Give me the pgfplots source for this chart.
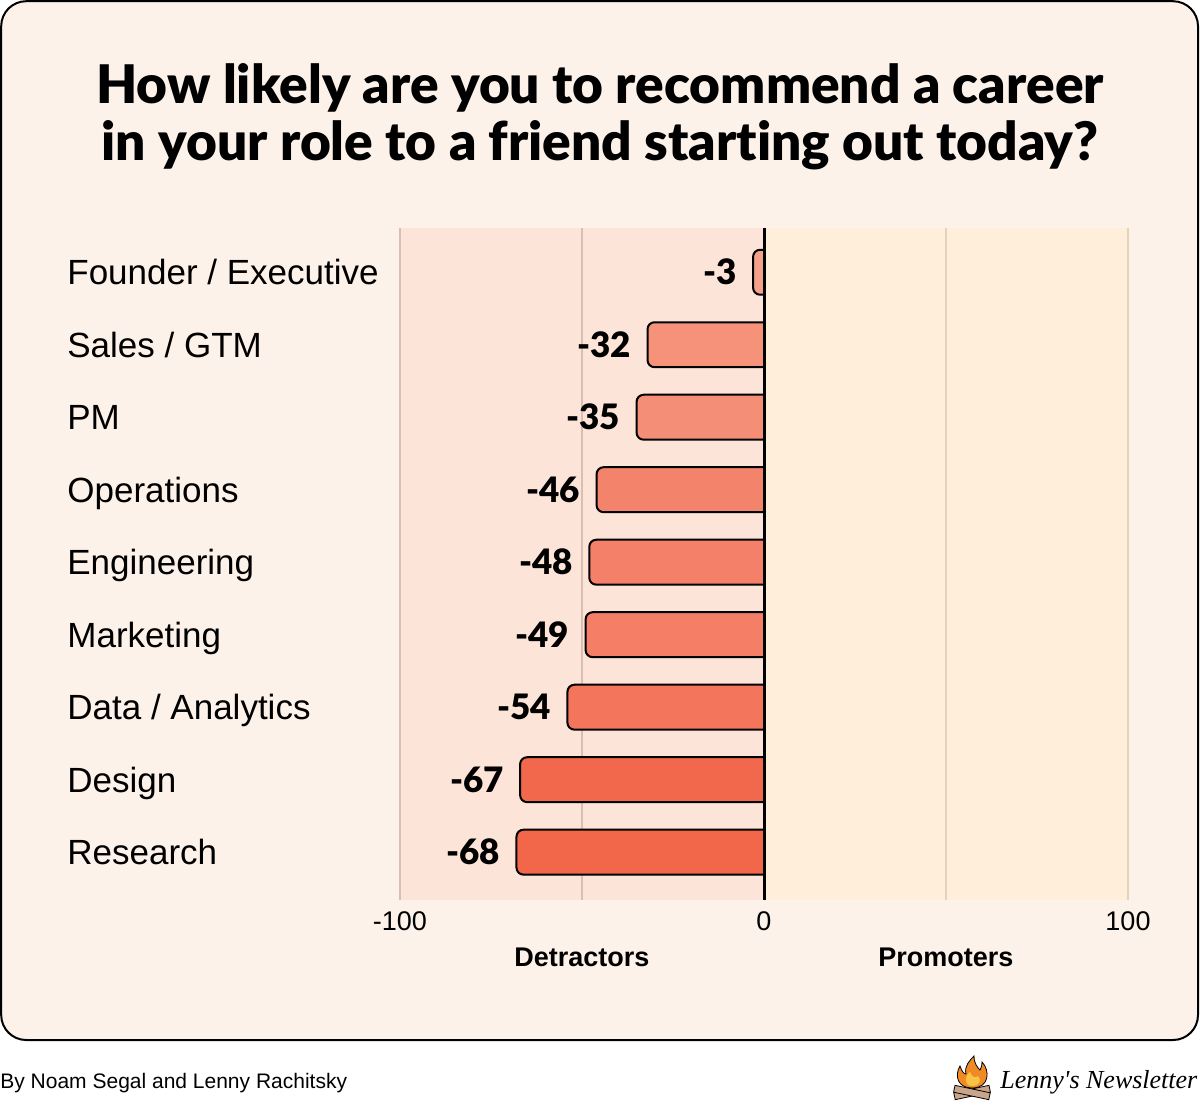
\documentclass[border=0pt]{standalone}
\usepackage{pgfplots}
\pgfplotsset{compat=1.18}
\usepackage{fontspec}
\setmainfont{Liberation Sans}
\newfontfamily\titlefont[Ligatures=NoCommon]{Lato Black}
\newfontfamily\logofont{Liberation Serif}
\definecolor{cardbg}{HTML}{FDF2EA}
\definecolor{pinkbg}{HTML}{FDE4D9}
\definecolor{creambg}{HTML}{FEEEDA}
\definecolor{gridL}{HTML}{D8BFB2}
\definecolor{gridR}{HTML}{E4D2BA}
\definecolor{b1}{HTML}{F5A08A}
\definecolor{b2}{HTML}{F6927A}
\definecolor{b3}{HTML}{F58E76}
\definecolor{b4}{HTML}{F4836C}
\definecolor{b5}{HTML}{F48069}
\definecolor{b6}{HTML}{F47E66}
\definecolor{b7}{HTML}{F3765C}
\definecolor{b8}{HTML}{F2684D}
\definecolor{b9}{HTML}{F2664A}
\definecolor{flameO}{HTML}{F08A24}
\definecolor{flameY}{HTML}{F9C443}
\definecolor{logbrown}{HTML}{C9A58A}
\begin{document}
\begin{tikzpicture}
\fill[white] (0pt,0pt) rectangle (600pt,-552pt);
\draw[line width=1pt, fill=cardbg, rounded corners=12.5pt] (0.6pt,-0.6pt) rectangle (599pt,-520pt);
\node[anchor=base, inner sep=0pt, font=\titlefont\fontsize{26.6}{30}\selectfont] at (300pt,-51.5pt) {How likely are you to recommend a career};
\node[anchor=base, inner sep=0pt, font=\titlefont\fontsize{26.6}{30}\selectfont] at (300pt,-80pt) {in your role to a friend starting out today?};
\begin{axis}[
  at={(200pt,-114pt)}, anchor=north west,
  scale only axis, width=364pt, height=336pt,
  xmin=-100, xmax=100, ymin=-0.61, ymax=8.66, y dir=reverse,
  axis line style={draw=none}, major tick length=0pt,
  xtick={-100,0,100}, xticklabels={-100,0,100},
  xticklabel style={font=\fontsize{13.5}{15}\selectfont, yshift=-2.5pt},
  ytick={0,1,2,3,4,5,6,7,8},
  yticklabels={Founder / Executive, Sales / GTM, PM, Operations, Engineering, Marketing, Data / Analytics, Design, Research},
  yticklabel style={anchor=base west, inner sep=0pt, xshift=-166.5pt, yshift=-6.2pt, font=\fontsize{17.5}{19}\selectfont},
  clip=false,
  bar/.style={draw=black, line width=1pt, rounded corners=3.5pt},
]
\fill[pinkbg] (axis cs:-100,-0.61) rectangle (axis cs:0,8.66);
\fill[creambg] (axis cs:0,-0.61) rectangle (axis cs:100,8.66);
\draw[gridL, line width=0.8pt] (axis cs:-100,-0.61) -- (axis cs:-100,8.66);
\draw[gridL, line width=0.8pt] (axis cs:-50,-0.61) -- (axis cs:-50,8.66);
\draw[gridR, line width=0.8pt] (axis cs:50,-0.61) -- (axis cs:50,8.66);
\draw[gridR, line width=0.8pt] (axis cs:100,-0.61) -- (axis cs:100,8.66);
% bars: value at x, category index at y (half height 0.31)
\addplot[bar, fill=b1] coordinates {(0,-0.31) (-3,-0.31) (-3,0.31) (0,0.31)};
\addplot[bar, fill=b2] coordinates {(0,0.69) (-32,0.69) (-32,1.31) (0,1.31)};
\addplot[bar, fill=b3] coordinates {(0,1.69) (-35,1.69) (-35,2.31) (0,2.31)};
\addplot[bar, fill=b4] coordinates {(0,2.69) (-46,2.69) (-46,3.31) (0,3.31)};
\addplot[bar, fill=b5] coordinates {(0,3.69) (-48,3.69) (-48,4.31) (0,4.31)};
\addplot[bar, fill=b6] coordinates {(0,4.69) (-49,4.69) (-49,5.31) (0,5.31)};
\addplot[bar, fill=b7] coordinates {(0,5.69) (-54,5.69) (-54,6.31) (0,6.31)};
\addplot[bar, fill=b8] coordinates {(0,6.69) (-67,6.69) (-67,7.31) (0,7.31)};
\addplot[bar, fill=b9] coordinates {(0,7.69) (-68,7.69) (-68,8.31) (0,8.31)};
% value labels
\addplot[draw=none, mark=none, point meta=x,
  nodes near coords={\pgfmathprintnumber[assume math mode=true]{\pgfplotspointmeta}},
  nodes near coords style={anchor=east, inner sep=0pt, font=\titlefont\fontsize{17.5}{19}\selectfont, xshift=-8pt}]
  coordinates {(-3,0) (-32,1) (-35,2) (-46,3) (-48,4) (-49,5) (-54,6) (-67,7) (-68,8)};
\draw[black, line width=1.5pt] (axis cs:0,-0.61) -- (axis cs:0,8.66);
\node[anchor=base, yshift=-33pt, font=\bfseries\fontsize{13.5}{15}\selectfont] at (axis cs:-50,8.66) {Detractors};
\node[anchor=base, yshift=-33pt, font=\bfseries\fontsize{13.5}{15}\selectfont] at (axis cs:50,8.66) {Promoters};
\end{axis}
\node[anchor=base west, inner sep=0pt, font=\fontsize{10.5}{12}\selectfont] at (0pt,-544pt) {By Noam Segal and Lenny Rachitsky};
% logo
\fill[logbrown, draw=black, line width=0.4pt, rotate around={12:(486pt,-546pt)}] (477pt,-548pt) rectangle (495pt,-544.5pt);
\fill[logbrown, draw=black, line width=0.4pt, rotate around={-12:(486pt,-546pt)}] (477pt,-548pt) rectangle (495pt,-544.5pt);
\fill[flameO, draw=black, line width=0.4pt] (486pt,-544pt) .. controls (479pt,-544pt) and (477pt,-538pt) .. (480pt,-533pt) .. controls (481pt,-536pt) and (482pt,-537pt) .. (483pt,-537pt) .. controls (482pt,-533pt) and (485pt,-530pt) .. (487pt,-528pt) .. controls (487pt,-532pt) and (489pt,-534pt) .. (490pt,-535pt) .. controls (491pt,-533pt) and (491pt,-532pt) .. (491pt,-531pt) .. controls (495pt,-535pt) and (495pt,-544pt) .. (486pt,-544pt) -- cycle;
\fill[flameY] (486pt,-543pt) .. controls (482pt,-543pt) and (482pt,-538pt) .. (485pt,-536pt) .. controls (486pt,-539pt) and (488pt,-539pt) .. (489pt,-538pt) .. controls (491pt,-540pt) and (490pt,-543pt) .. (486pt,-543pt) -- cycle;
\node[anchor=base west, inner sep=0pt, font=\logofont\itshape\fontsize{13}{14}\selectfont] at (500pt,-544pt) {Lenny's Newsletter};
\end{tikzpicture}
\end{document}
